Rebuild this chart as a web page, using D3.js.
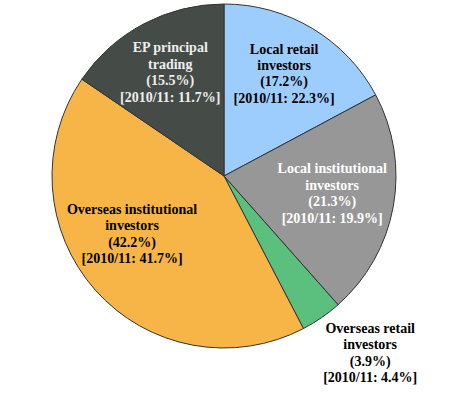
<!DOCTYPE html>
<meta charset="utf-8">
<style>
body { margin: 0; background: #fff; }
.lbl text { font: bold 14px "Liberation Serif", "Times New Roman", serif; text-anchor: middle; }
.arc path { stroke: #333; stroke-width: 1; }
</style>
<svg width="454" height="395"></svg>
<script src="https://d3js.org/d3.v7.min.js"></script>
<script>

var names = [["Local retail", "investors"], ["Local institutional", "investors"], ["Overseas retail", "investors"], ["Overseas institutional", "investors"], ["EP principal", "trading"]];
var shares = [17.2, 21.3, 3.9, 42.2, 15.5];
var prior = [22.3, 19.9, 4.4, 41.7, 11.7];

var fills = ["#9dcdfd", "#979797", "#5bbf7d", "#f6b546", "#454c48"];
var inks = ["#000", "#fff", "#000", "#000", "#eeeeee"];
// label nudges from the centroid, in px
var nudge = [[1, -4], [-5, -3], [81, 82], [-6, -19], [0, -2]];

var svg = d3.select("svg"),
    cx = 224, cy = 176, radius = 172,
    g = svg.append("g").attr("transform", "translate(" + cx + "," + cy + ")");

var data = shares.map(function(v, i) { return {i: i, value: v}; });

var pie = d3.pie().sort(null).value(function(d) { return d.value; });

var path = d3.arc().outerRadius(radius).innerRadius(0);
var label = d3.arc().outerRadius(115).innerRadius(115);

var arcs = pie(data);

g.selectAll(".arc")
  .data(arcs)
  .enter().append("g")
    .attr("class", "arc")
  .append("path")
    .attr("d", path)
    .attr("fill", function(d) { return fills[d.data.i]; });

var lbl = g.selectAll(".lbl")
  .data(arcs)
  .enter().append("g")
    .attr("class", "lbl")
    .attr("transform", function(d) {
      var c = label.centroid(d), n = nudge[d.data.i];
      return "translate(" + (c[0] + n[0]) + "," + (c[1] + n[1]) + ")";
    });

lbl.each(function(d) {
  var i = d.data.i;
  var lines = names[i].concat(["(" + shares[i].toFixed(1) + "%)", "[2010/11: " + prior[i].toFixed(1) + "%]"]);
  var t = d3.select(this).append("text").attr("fill", inks[i]);
  lines.forEach(function(s, k) {
    t.append("tspan")
      .attr("x", 0)
      .attr("y", (k - 1.5) * 16.5)
      .attr("dy", "0.35em")
      .text(s);
  });
});

</script>
